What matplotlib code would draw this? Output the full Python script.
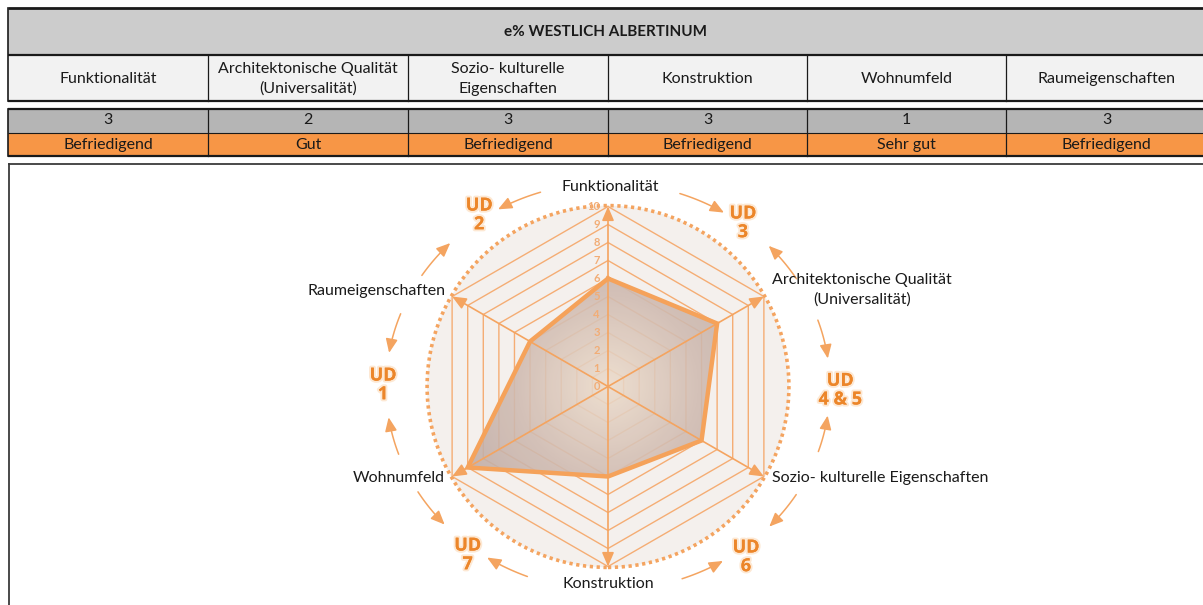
import numpy as np
import matplotlib.pyplot as plt
import matplotlib.patheffects as pe
from matplotlib.patches import Rectangle, Polygon, Circle, FancyArrowPatch
from matplotlib.path import Path
from matplotlib.colors import LinearSegmentedColormap

plt.rcParams['font.family'] = ['Lato', 'DejaVu Sans']

# ---------------- data ----------------
title = "e% WESTLICH ALBERTINUM"
criteria = ["Funktionalität", "Architektonische Qualität\n(Universalität)",
            "Sozio- kulturelle\nEigenschaften", "Konstruktion",
            "Wohnumfeld", "Raumeigenschaften"]
radar_labels = ["Funktionalität", "Architektonische Qualität\n(Universalität)",
                "Sozio- kulturelle Eigenschaften", "Konstruktion",
                "Wohnumfeld", "Raumeigenschaften"]
scores = [3, 2, 3, 3, 1, 3]
grades = ["Befriedigend", "Gut", "Befriedigend", "Befriedigend", "Sehr gut", "Befriedigend"]
values = [6, 7, 6, 5, 9, 5]
ticks = list(range(0, 11))
ud_labels = ["UD\n2", "UD\n3", "UD\n4 & 5", "UD\n6", "UD\n7", "UD\n1"]

# ---------------- layout ----------------
W, H = 1203, 605
col_x = [8, 208, 408, 608, 807, 1006, 1215]
ORANGE = '#f79646'
LINE = '#f4a460'
FS = 11.5

fig = plt.figure(figsize=(W / 100, H / 100), dpi=100)

# table part (pixel coordinates)
axt = fig.add_axes([0, 0, 1, 1])
axt.set_xlim(0, W)
axt.set_ylim(H, 0)
axt.axis('off')

# title row
axt.add_patch(Rectangle((8, 8), W, 47, facecolor='#cccccc', edgecolor='none'))
axt.text((col_x[0] + W) / 2, 31.5, title, ha='center', va='center',
         fontsize=FS - 0.5, fontweight='bold', color='#1a1a1a')
# header row
axt.add_patch(Rectangle((8, 55), W, 46, facecolor='#f2f2f2', edgecolor='none'))
# score row / grade row
axt.add_patch(Rectangle((8, 109), W, 24, facecolor='#b5b5b5', edgecolor='none'))
axt.add_patch(Rectangle((8, 133), W, 23, facecolor=ORANGE, edgecolor='none'))

for i in range(6):
    cx = (col_x[i] + col_x[i + 1]) / 2
    if i == 5:
        cx = (col_x[i] + 1203) / 2 + 2
    axt.text(cx, 79, criteria[i], ha='center', va='center', fontsize=FS,
             color='#1a1a1a', linespacing=1.5)
    axt.text(cx, 120, str(scores[i]), ha='center', va='center', fontsize=FS, color='#1a1a1a')
    axt.text(cx, 145, grades[i], ha='center', va='center', fontsize=FS, color='#1a1a1a')

for y, lw in [(8, 2.0), (55, 1.6), (101, 1.6), (109, 1.6), (133, 0.8), (156, 1.6)]:
    axt.plot([8, W], [y, y], color='#1a1a1a', lw=lw, solid_capstyle='butt')
axt.plot([8, 8], [8, 101], color='#1a1a1a', lw=1.2)
axt.plot([8, 8], [109, 156], color='#1a1a1a', lw=1.2)
for x in col_x[1:-1]:
    axt.plot([x, x], [55, 101], color='#1a1a1a', lw=0.9)
    axt.plot([x, x], [109, 156], color='#1a1a1a', lw=0.9)

# chart box
axt.plot([9, W], [164, 164], color='#3a3a3a', lw=1.3)
axt.plot([9, 9], [164, H], color='#3a3a3a', lw=1.3)

# ---------------- radar (1 unit = 18 px) ----------------
cx_px, cy_px, unit = 608, 386.5, 18.0
axr = fig.add_axes([0, 0, 1, 1])
axr.patch.set_alpha(0)
axr.axis('off')

n = len(values)
theta = np.deg2rad(90 - 60 * np.arange(n))
cos_t, sin_t = np.cos(theta), np.sin(theta)

# background disc + dotted rim
axr.add_patch(Circle((0, 0), 10.05, facecolor='#f4f0ed', edgecolor='none', zorder=1))
axr.add_patch(Circle((0, 0), 10.05, fill=False, edgecolor=LINE, lw=2.6,
                     linestyle=(0, (0.9, 1.0)), zorder=6))

# hexagonal rings
for r in ticks[1:]:
    axr.plot(np.append(r * cos_t, r * cos_t[0]), np.append(r * sin_t, r * sin_t[0]),
             color='#f5ad74', lw=1.0, zorder=2)

# data polygon with radial gradient fill
vx = np.array(values) * cos_t
vy = np.array(values) * sin_t
poly = Polygon(np.column_stack([vx, vy]), closed=True, facecolor='none',
               edgecolor='none', transform=axr.transData)
axr.add_patch(poly)
gx, gy = np.meshgrid(np.linspace(-10, 10, 300), np.linspace(-10, 10, 300))
rr = np.sqrt(gx ** 2 + gy ** 2) / 10
cmap = LinearSegmentedColormap.from_list('fillgrad', ['#eddccb', '#d0bbb1', '#bca8a2'])
im = axr.imshow(rr, extent=(-10, 10, -10, 10), origin='lower', cmap=cmap,
                vmin=0, vmax=1, alpha=0.88, aspect='auto', zorder=3)
im.set_clip_path(poly)
axr.plot(np.append(vx, vx[0]), np.append(vy, vy[0]), color='#f5a25a', lw=3.2,
         solid_joinstyle='miter', zorder=5)

# spokes with arrowheads
for c, s in zip(cos_t, sin_t):
    axr.add_patch(FancyArrowPatch((0, 0), (10 * c, 10 * s),
                                  arrowstyle='-|>,head_length=0.7,head_width=0.3',
                                  mutation_scale=12, color=LINE, lw=1.2,
                                  shrinkA=0, shrinkB=0, zorder=4))

# scale labels
for t in ticks:
    axr.text(-0.45, t, str(t), ha='right', va='center', fontsize=8,
             fontweight='bold', color='#f2ad76', zorder=7)

# axis labels
offsets = [(2, 20, 'center'), (8, 7, 'left'), (8, -1.5, 'left'),
           (0, -17.5, 'center'), (-7, -1.5, 'right'), (-7, 5.5, 'right')]
for lab, c, s, (dx, dy, ha) in zip(radar_labels, cos_t, sin_t, offsets):
    axr.annotate(lab, (10 * c, 10 * s), xytext=(dx, dy), textcoords='offset pixels',
                 ha=ha, va='center', fontsize=FS, color='#1a1a1a',
                 multialignment='center', linespacing=1.45, zorder=8)

# UD labels around the chart
ud_pos = [(126.9, 11.92), (50.5, 11.78), (-0.9, 12.9), (-51, 12.18), (-129.8, 12.18), (179.6, 12.5)]
for lab, (a, r) in zip(ud_labels, ud_pos):
    a = np.deg2rad(a)
    axr.text(r * np.cos(a), r * np.sin(a), lab, ha='center', va='center',
             fontsize=13, fontweight='bold', family=['Open Sans', 'DejaVu Sans'],
             color='#ec862a', linespacing=1.05,
             path_effects=[pe.withStroke(linewidth=3, foreground='#fde6cf', alpha=0.9),
                           pe.Normal()], zorder=8)

# curved arrows from each criterion to neighbouring UD labels
arcs = [(107.7, 119.7), (71.1, 58.5), (31.9, 43.6), (19.0, 7.9),
        (-18.6, -8.2), (-32.0, -43.4), (-70.5, -58.8), (-111.3, -123.0),
        (-148.9, -137.4), (-160.6, -171.3), (159.1, 170.5), (147.0, 135.3)]
rx, ry = 12.33, 11.33
for a0, a1 in arcs:
    a = np.deg2rad(np.linspace(a0, a1, 20))
    path = Path(np.column_stack([rx * np.cos(a), ry * np.sin(a)]))
    axr.add_patch(FancyArrowPatch(path=path, arrowstyle='-|>,head_length=0.7,head_width=0.3',
                                  mutation_scale=12, color=LINE, lw=1.1, zorder=6))

axr.set_xlim(-cx_px / unit, (W - cx_px) / unit)
axr.set_ylim(-(H - cy_px) / unit, cy_px / unit)

fig.savefig('out.png', dpi=100)
